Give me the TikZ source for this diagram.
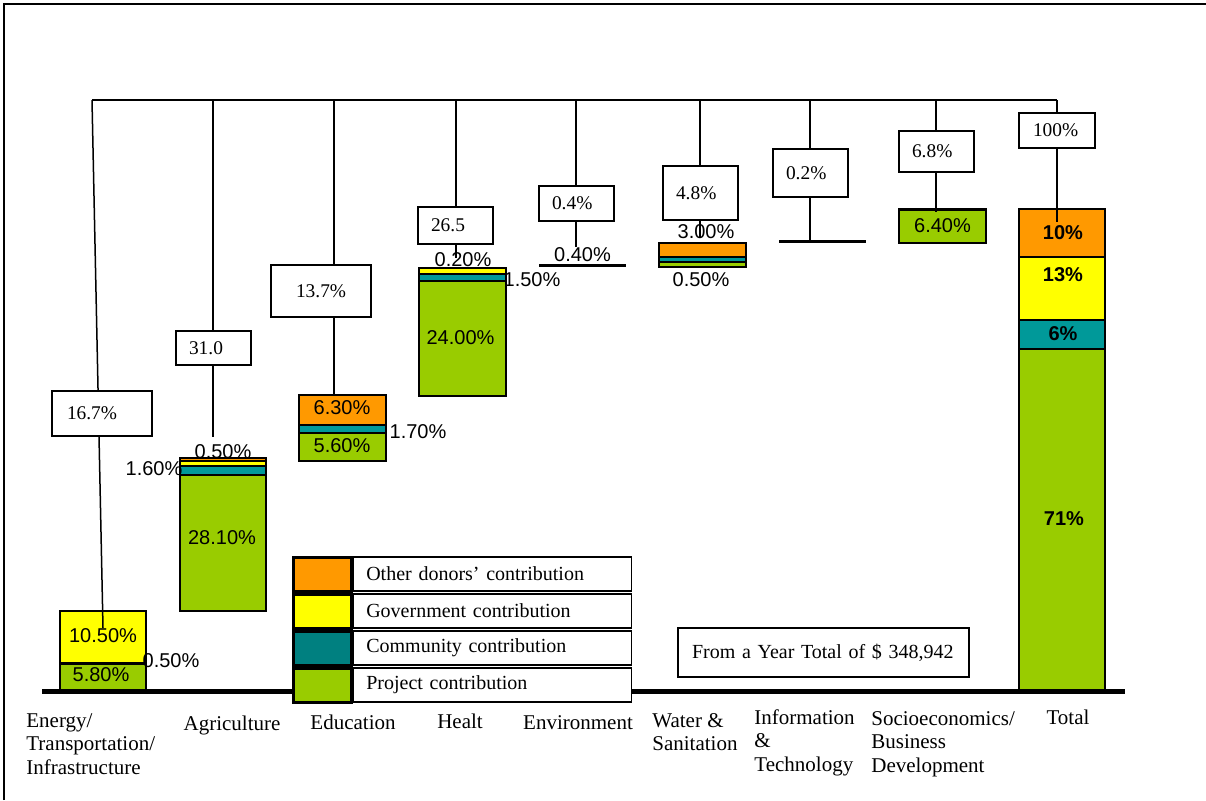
\documentclass[tikz,border=0pt]{standalone}
\usepackage{fontspec}
\setmainfont{Liberation Serif}
\setsansfont{Liberation Sans}
\usetikzlibrary{positioning}

\definecolor{othorange}{HTML}{FF9900}
\definecolor{govyellow}{HTML}{FFFF00}
\definecolor{comteal}{HTML}{009999}
\definecolor{legteal}{HTML}{008080}
\definecolor{projgreen}{HTML}{99CC00}

\tikzset{
  valbox/.style={draw, fill=white, line width=1pt, font=\fontsize{9.7}{11}\selectfont,
    inner xsep=6.5pt, inner ysep=0pt, text width=24.5pt, align=left},
  pct/.style={font=\sffamily\fontsize{10}{12}\selectfont, inner sep=0pt},
  totpct/.style={inner sep=0pt, font=\sffamily\bfseries\fontsize{10}{12}\selectfont},
  bar/.style={draw, line width=0.7pt},
  link/.style={line width=0.75pt},
  cat/.style={font=\fontsize{10.5}{11.7}\selectfont, inner sep=0pt, align=left},
  swatch/.style={draw, line width=1.5pt, minimum width=29pt, minimum height=17pt, inner sep=0pt},
  legtext/.style={draw, fill=white, line width=0.8pt, minimum height=17pt, text width=126pt,
    inner xsep=6.5pt, inner ysep=0pt, align=left, font=\fontsize{10}{12}\selectfont},
}

\begin{document}
\begin{tikzpicture}[x=0.5pt, y=-0.5pt]
  \useasboundingbox (0,0) rectangle (1206,800);
  \draw[line width=1pt] (4,800) -- (4,4) -- (1206,4);

  \coordinate (tenergy) at (92,100);
  \coordinate (tagri) at (213,100);
  \coordinate (tedu) at (334,100);
  \coordinate (theal) at (456,100);
  \coordinate (tenv) at (576,100);
  \coordinate (twat) at (700,100);
  \coordinate (tinfo) at (810,100);
  \coordinate (tsoc) at (936,100);
  \coordinate (ttot) at (1057,100);
  \coordinate (eenergy) at (103,628);
  \coordinate (eagri) at (213,437);
  \coordinate (eedu) at (334,395);
  \coordinate (eheal) at (456,258);
  \coordinate (eenv) at (576,247);
  \coordinate (ewat) at (700,238);
  \coordinate (einfo) at (810,242);
  \coordinate (esoc) at (936,212);
  \coordinate (etot) at (1057,222);

  \draw[bar, fill=projgreen] (60,663) rectangle (146,691);
  \draw[bar, fill=govyellow] (60,611) rectangle (146,663);
  \draw[line width=1.5pt] (60,663) -- (146,663);

  \draw[bar, fill=projgreen] (180,475) rectangle (266,611);
  \draw[bar, fill=comteal] (180,466) rectangle (266,475);
  \draw[bar, fill=govyellow] (180,461) rectangle (266,466);
  \draw[bar, fill=othorange] (180,458) rectangle (266,461);

  \draw[bar, fill=projgreen] (299,433) rectangle (386,461);
  \draw[bar, fill=comteal] (299,425) rectangle (386,433);
  \draw[bar, fill=othorange] (299,395) rectangle (386,425);

  \draw[bar, fill=projgreen] (419,281) rectangle (506,396);
  \draw[bar, fill=comteal] (419,274) rectangle (506,281);
  \draw[bar, fill=govyellow] (419,268) rectangle (506,274);

  \draw[line width=1.5pt] (539,265) -- (626,265);

  \draw[bar, fill=projgreen] (659,262) rectangle (746,267);
  \draw[bar, fill=comteal] (659,257) rectangle (746,262);
  \draw[bar, fill=othorange] (659,243) rectangle (746,257);

  \draw[line width=1.5pt] (779,241) -- (866,241);

  \draw[bar, fill=projgreen] (899,209) rectangle (986,243);
  \draw[line width=1.5pt] (899,209) -- (986,209);

  \draw[bar, fill=projgreen] (1019,349) rectangle (1105,691);
  \draw[bar, fill=comteal] (1019,320) rectangle (1105,349);
  \draw[bar, fill=govyellow] (1019,257) rectangle (1105,320);
  \draw[bar, fill=othorange] (1019,209) rectangle (1105,257);

  \draw[line width=2.5pt] (42,691) -- (1125,691);

  \draw[link] (tenergy) -- (ttot);
  \foreach \c in {energy,agri,edu,heal,env,wat,info,soc,tot}
    \draw[link] (t\c) -- (e\c);

  \node[valbox, minimum height=22.5pt, inner xsep=7.5pt, text width=35pt] (venergy) at (102,413.5) {16.7\%};
  \node[valbox, minimum height=17pt] (vagri) at (213.5,348) {31.0};
  \node[valbox, minimum height=26pt, inner xsep=12.5pt, text width=25pt] (vedu) at (321,291) {13.7\%};
  \node[valbox, minimum height=18.5pt] (vheal) at (455.5,225.5) {26.5};
  \node[valbox, minimum height=17.5pt] (venv) at (576.5,203.5) {0.4\%};
  \node[valbox, minimum height=27pt] (vwat) at (700.5,193) {4.8\%};
  \node[valbox, minimum height=24pt] (vinfo) at (810.5,173) {0.2\%};
  \node[valbox, minimum height=20.5pt] (vsoc) at (936.5,151.5) {6.8\%};
  \node[valbox, minimum height=17.5pt, inner xsep=7pt, text width=24pt] (vtot) at (1057,130.5) {100\%};

  \node[pct] (penergyy) at (103,636) {10.50\%};
  \node[pct] (penergyg) at (101,675) {5.80\%};
  \node[pct] (penergyc) at (171,661) {0.50\%};
  \node[pct] (pagrio) at (223,452) {0.50\%};
  \node[pct] (pagric) at (154,469) {1.60\%};
  \node[pct] (pagrig) at (222,538) {28.10\%};
  \node[pct] (peduo) at (342,408) {6.30\%};
  \node[pct] (pedug) at (342,445.5) {5.60\%};
  \node[pct] (peduc) at (418,432) {1.70\%};
  \node[pct] (pheally) at (463,259.5) {0.20\%};
  \node[pct] (phealc) at (532,280) {1.50\%};
  \node[pct] (phealg) at (460.5,338) {24.00\%};
  \node[pct] (penvg) at (582.5,255) {0.40\%};
  \node[pct] (pwato) at (706,231.5) {3.00\%};
  \node[pct] (pwatc) at (701,280) {0.50\%};
  \node[pct] (psocg) at (942.5,226) {6.40\%};
  \node[totpct] (ptoto) at (1063,233) {10\%};
  \node[totpct] (ptoty) at (1063,275) {13\%};
  \node[totpct] (ptotc) at (1063,334) {6\%};
  \node[totpct] (ptotg) at (1064,519) {71\%};

  \node[swatch, fill=othorange] (swother) at (322,574) {};
  \node[swatch, fill=govyellow, below=0pt of swother] (swgov) {};
  \node[swatch, fill=legteal, below=0pt of swgov] (swcom) {};
  \node[swatch, fill=projgreen, below=0pt of swcom] (swproj) {};
  \node[legtext, right=0pt of swother] (lgother) {Other donors’ contribution};
  \node[legtext, right=0pt of swgov] (lggov) {Government contribution};
  \node[legtext, right=0pt of swcom] (lgcom) {Community contribution};
  \node[legtext, right=0pt of swproj] (lgproj) {Project contribution};

  \node[draw, line width=0.8pt, minimum height=24.5pt, text width=131.5pt, inner xsep=7pt,
    inner ysep=0pt, align=left, font=\fontsize{10}{12}\selectfont] (yeartot) at (823.5,652.5)
    {From a Year Total of \$ 348,942};

  \node[cat, anchor=north west] (cenergy) at (26,713) {Energy/\\Transportation/\\Infrastructure};
  \node[cat, anchor=base] (cagri) at (232,730) {Agriculture};
  \node[cat, anchor=base] (cedu) at (353,729) {Education};
  \node[cat, anchor=base] (cheal) at (460,728) {Healt};
  \node[cat, anchor=base] (cenv) at (578,729) {Environment};
  \node[cat, anchor=north west] (cwat) at (652,713) {Water \&\\Sanitation};
  \node[cat, anchor=north west] (cinfo) at (754,709) {Information\\\&\\Technology};
  \node[cat, anchor=north west] (csoc) at (871,711) {Socioeconomics/\\Business\\Development};
  \node[cat, anchor=base] (ctot) at (1068,724) {Total};
\end{tikzpicture}
\end{document}
